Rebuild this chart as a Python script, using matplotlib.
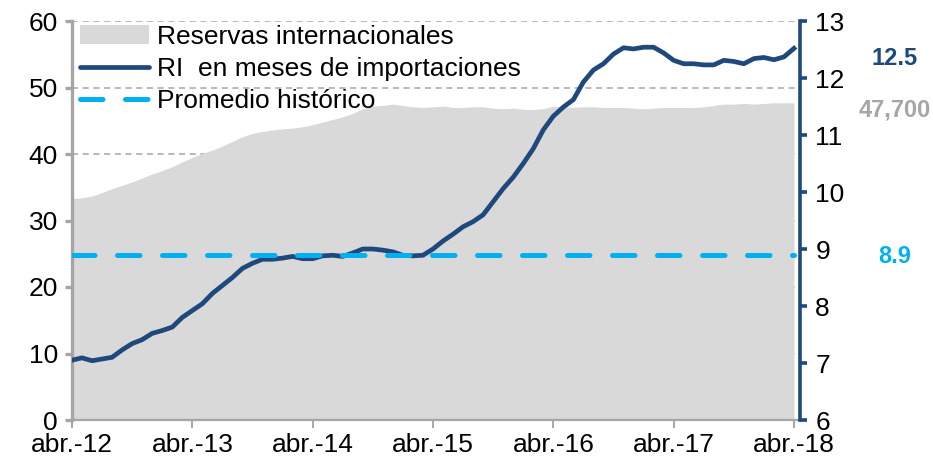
import matplotlib
matplotlib.use('Agg')
import matplotlib.pyplot as plt
import matplotlib.transforms as mtransforms
import numpy as np
from matplotlib.patches import Patch
from matplotlib.lines import Line2D

plt.rcParams['font.family'] = ['Liberation Sans', 'DejaVu Sans']

# monthly data, abr.-12 .. abr.-18
reservas = [33.3, 33.4, 33.7, 34.2, 34.8, 35.3, 35.8, 36.4, 37.0, 37.5,
            38.1, 38.8, 39.5, 40.1, 40.6, 41.2, 41.9, 42.6, 43.1, 43.4,
            43.6, 43.8, 43.9, 44.1, 44.4, 44.8, 45.2, 45.6, 46.1, 46.8,
            47.2, 47.3, 47.5, 47.3, 47.1, 47.0, 47.1, 47.2, 47.0, 47.0,
            47.1, 47.1, 46.9, 46.8, 46.9, 46.7, 46.7, 46.8, 47.2, 47.1,
            47.0, 47.1, 47.1, 47.0, 47.0, 47.0, 46.9, 46.8, 46.9, 47.0,
            47.0, 47.0, 47.0, 47.1, 47.3, 47.5, 47.5, 47.6, 47.5, 47.6,
            47.7, 47.7, 47.7]
ri_meses = [7.05, 7.09, 7.04, 7.07, 7.10, 7.23, 7.34, 7.41, 7.52, 7.57,
            7.63, 7.80, 7.92, 8.04, 8.22, 8.36, 8.50, 8.66, 8.75, 8.82,
            8.82, 8.84, 8.87, 8.83, 8.83, 8.88, 8.89, 8.87, 8.93, 9.00,
            9.00, 8.98, 8.95, 8.89, 8.88, 8.89, 9.00, 9.14, 9.26, 9.39,
            9.48, 9.60, 9.83, 10.06, 10.26, 10.50, 10.76, 11.09, 11.33, 11.49,
            11.62, 11.93, 12.14, 12.25, 12.42, 12.53, 12.51, 12.54, 12.54, 12.44,
            12.31, 12.25, 12.25, 12.23, 12.23, 12.31, 12.29, 12.25, 12.34, 12.36,
            12.32, 12.37, 12.52]
promedio = 8.9
tick_labels = ['abr.-12', 'abr.-13', 'abr.-14', 'abr.-15', 'abr.-16', 'abr.-17', 'abr.-18']

gray_area = '#D9D9D9'
navy = '#1F497D'
cyan = '#00B0F0'
axis_gray = '#A6A6A6'

x = np.arange(len(reservas))
prom = np.full(len(x), promedio)

fig = plt.figure(figsize=(9.33, 4.68), dpi=100)
ax = fig.add_axes([72 / 933, 48 / 468, 728 / 933, 399 / 468])
ax2 = ax.twinx()

ax.fill_between(x, 0, reservas, color=gray_area, lw=0, zorder=2)
ax.set_ylim(0, 60)
ax.set_yticks(range(0, 61, 10))
ax.set_xlim(0, 72.6)
ax.set_xticks(range(0, 73, 12))
ax.set_xticklabels(tick_labels)
ax.set_axisbelow(True)
ax.yaxis.grid(True, color=axis_gray, linestyle=(0, (4, 3)), lw=1.1)

ax2.plot(x, ri_meses, color=navy, lw=3.4, solid_joinstyle='round', zorder=3)
ax2.plot(x, prom, color=cyan, lw=3.6, linestyle=(0, (4.5, 4.5)),
         dash_capstyle='round', zorder=4)
ax2.set_ylim(6, 13)
ax2.set_yticks(range(6, 14))

for a in (ax, ax2):
    a.spines['top'].set_visible(False)
ax.spines['right'].set_visible(False)
ax2.spines['left'].set_visible(False)
ax2.spines['bottom'].set_visible(False)
ax.spines['left'].set_color(axis_gray)
ax.spines['left'].set_linewidth(2.4)
ax.spines['bottom'].set_color(axis_gray)
ax.spines['bottom'].set_linewidth(1.6)
ax2.spines['right'].set_color(navy)
ax2.spines['right'].set_linewidth(2.6)

ax.tick_params(axis='y', colors=axis_gray, labelcolor='black', length=5, width=2.4,
               labelsize=19, pad=5)
ax.tick_params(axis='x', colors=axis_gray, labelcolor='black', length=6, width=1.4,
               labelsize=19, pad=3)
ax2.tick_params(axis='y', colors=navy, labelcolor='black', length=5, width=2.6,
                labelsize=19, pad=6)

# value labels on the right
tr = mtransforms.blended_transform_factory(ax2.transAxes, ax2.transData)
ax2.annotate(f'{ri_meses[-1]:.1f}', xy=(1.13, ri_meses[-1]), xycoords=tr,
             xytext=(0, -7), textcoords='offset points', ha='center', va='center',
             fontsize=17, fontweight='bold', color=navy, annotation_clip=False)
tr1 = mtransforms.blended_transform_factory(ax.transAxes, ax.transData)
ax.annotate(f'{reservas[-1] * 1000:,.0f}', xy=(1.13, reservas[-1]), xycoords=tr1,
            xytext=(0, -5), textcoords='offset points', ha='center', va='center',
            fontsize=17, fontweight='bold', color=axis_gray, annotation_clip=False)
ax2.annotate(f'{promedio:.1f}', xy=(1.13, promedio), xycoords=tr,
             xytext=(0, -1.5), textcoords='offset points', ha='center', va='center',
             fontsize=17, fontweight='bold', color=cyan, annotation_clip=False)

handles = [Patch(facecolor=gray_area, edgecolor='none'),
           Line2D([], [], color=navy, lw=3.4, solid_capstyle='round'),
           Line2D([], [], color=cyan, lw=3.6, linestyle=(0, (4.5, 4.5)), dash_capstyle='round')]
labels = ['Reservas internacionales', 'RI  en meses de importaciones', 'Promedio histórico']
leg = ax2.legend(handles, labels, loc='upper left', bbox_to_anchor=(0.006, 1.0),
                 frameon=False, fontsize=19, handlelength=2.6, handletextpad=0.3,
                 labelspacing=0.3, borderaxespad=0.0, borderpad=0.15)
leg.set_zorder(10)

fig.savefig('out.png', dpi=100)
